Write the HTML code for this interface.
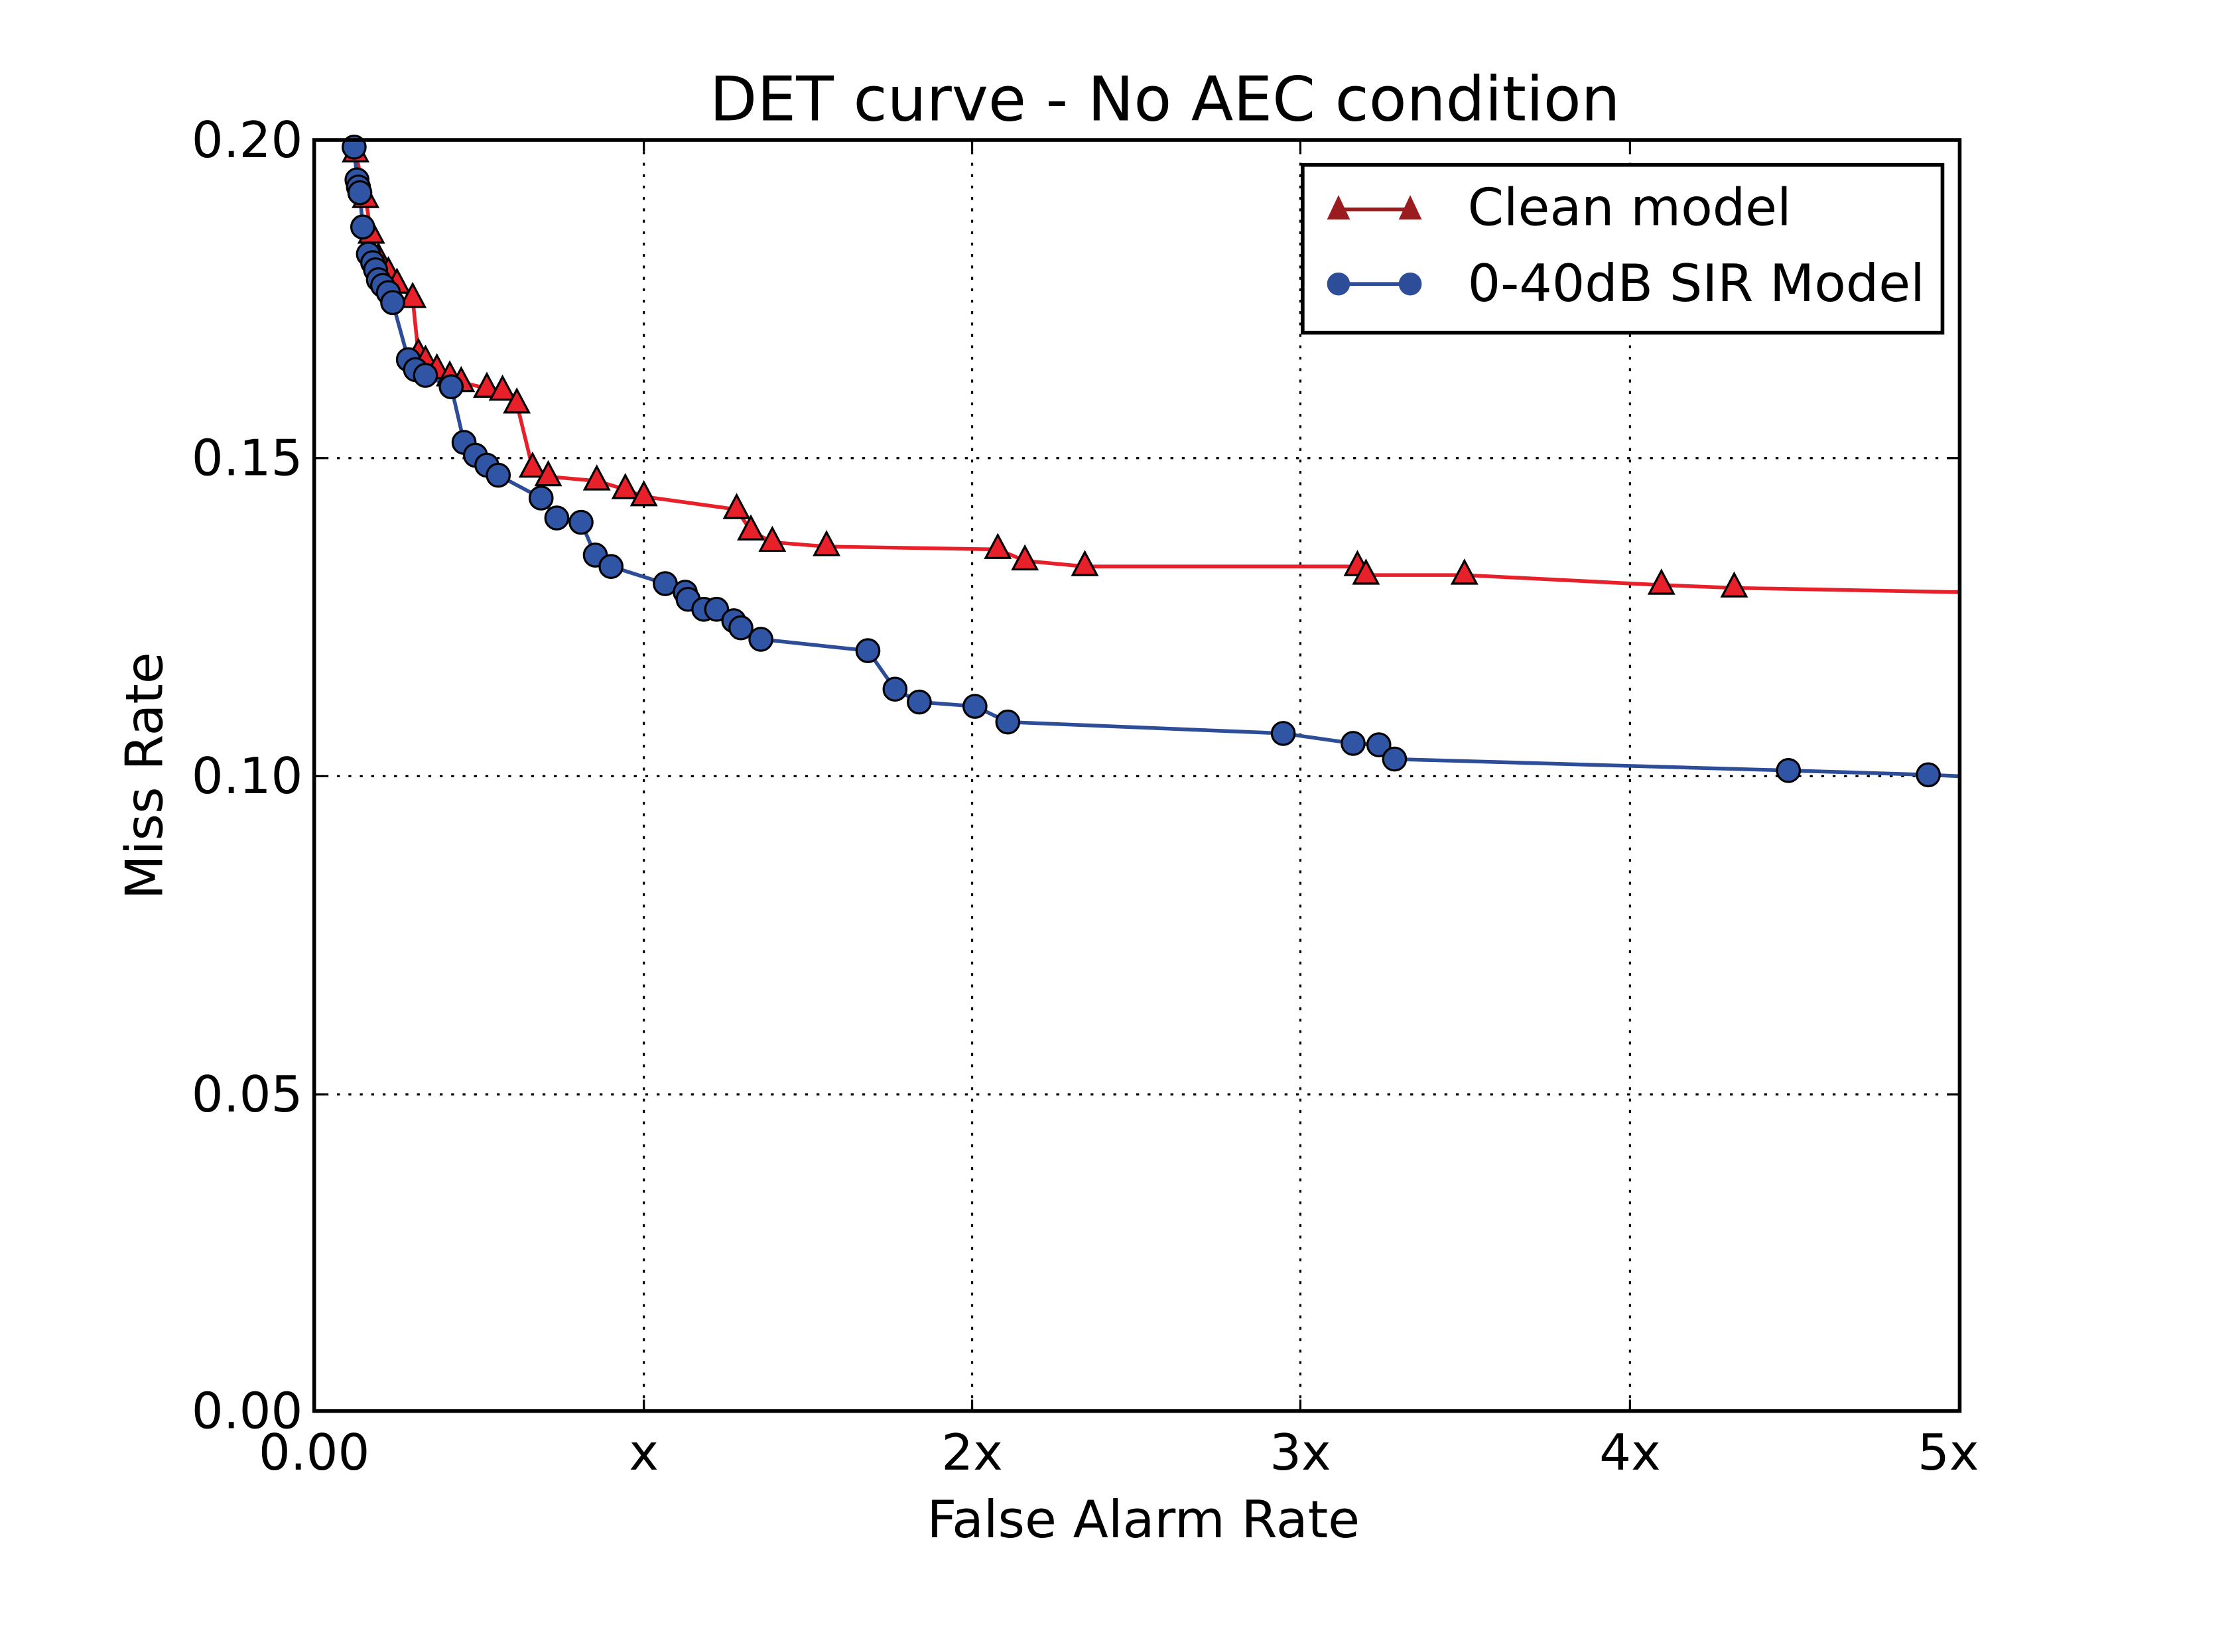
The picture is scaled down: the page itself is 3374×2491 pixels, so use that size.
<!DOCTYPE html>
<html><head><meta charset="utf-8"><style>
html,body{margin:0;padding:0;background:#fff;}
svg{display:block;}
text{font-family:"DejaVu Sans","Liberation Sans",sans-serif;fill:#000;}
</style></head><body>
<svg width="3374" height="2491" viewBox="0 0 1560 1152" preserveAspectRatio="none" xmlns="http://www.w3.org/2000/svg">
<defs>
<path id="tri" d="M0,-10 L8.5,6 L-8.5,6 Z" fill="#e8202a" stroke="#000" stroke-width="1.5"/>
<circle id="cir" r="8" fill="#3055a5" stroke="#000" stroke-width="1.5"/>
</defs>
<rect width="1560" height="1152" fill="#fff"/>
<g transform="translate(219,97.6) scale(0.9948) translate(-220,-97)">
<g stroke="#000" stroke-width="1.5" stroke-dasharray="2,6">
<line x1="451" y1="97" x2="451" y2="988"/>
<line x1="681" y1="97" x2="681" y2="988"/>
<line x1="911" y1="97" x2="911" y2="988"/>
<line x1="1142" y1="97" x2="1142" y2="988"/>
<line x1="220" y1="320" x2="1373" y2="320"/>
<line x1="220" y1="543" x2="1373" y2="543"/>
<line x1="220" y1="766" x2="1373" y2="766"/>
</g>
<g stroke="#000" stroke-width="1.5">
<line x1="451" y1="988" x2="451" y2="980"/><line x1="681" y1="988" x2="681" y2="980"/><line x1="911" y1="988" x2="911" y2="980"/><line x1="1142" y1="988" x2="1142" y2="980"/>
<line x1="451" y1="97" x2="451" y2="105"/><line x1="681" y1="97" x2="681" y2="105"/><line x1="911" y1="97" x2="911" y2="105"/><line x1="1142" y1="97" x2="1142" y2="105"/>
<line x1="220" y1="320" x2="228" y2="320"/><line x1="220" y1="543" x2="228" y2="543"/><line x1="220" y1="766" x2="228" y2="766"/>
<line x1="1373" y1="320" x2="1365" y2="320"/><line x1="1373" y1="543" x2="1365" y2="543"/><line x1="1373" y1="766" x2="1365" y2="766"/>
</g>
<polyline fill="none" stroke="#e8202a" stroke-width="2.6" points="249,106 256,138 260,163 265,180 272,190 278,198 289,208 293,247 298,252 306,258 315,263 323,267 341,271 352,273 362,282 373,327 384,333 418,336 438,342 451,347 516,356 526,371 541,379 579,382 699,384 718,392 760,396 951,396 957,402 1026,402 1164,409 1215,411 1373,414"/>
<polyline fill="none" stroke="#2e4d99" stroke-width="2.6" points="248,102 250,125 251,130 252,134 254,158 258,177 261,183 263,188 265,195 268,199 272,204 275,211 286,251 291,258 298,262 316,270 325,309 333,318 341,325 349,332 379,348 390,362 407,365 417,388 428,396 466,408 480,414 482,419 493,426 502,426 514,434 519,439 533,447 608,455 627,482 644,491 683,494 706,505 899,513 948,520 966,521 977,531 1253,539 1351,542 1373,543"/>
<g>
<use href="#tri" x="249" y="106"/><use href="#tri" x="256" y="138"/><use href="#tri" x="260" y="163"/><use href="#tri" x="265" y="180"/><use href="#tri" x="272" y="190"/><use href="#tri" x="278" y="198"/><use href="#tri" x="289" y="208"/><use href="#tri" x="293" y="247"/><use href="#tri" x="298" y="252"/><use href="#tri" x="306" y="258"/><use href="#tri" x="315" y="263"/><use href="#tri" x="323" y="267"/><use href="#tri" x="341" y="271"/><use href="#tri" x="352" y="273"/><use href="#tri" x="362" y="282"/><use href="#tri" x="373" y="327"/><use href="#tri" x="384" y="333"/><use href="#tri" x="418" y="336"/><use href="#tri" x="438" y="342"/><use href="#tri" x="451" y="347"/><use href="#tri" x="516" y="356"/><use href="#tri" x="526" y="371"/><use href="#tri" x="541" y="379"/><use href="#tri" x="579" y="382"/><use href="#tri" x="699" y="384"/><use href="#tri" x="718" y="392"/><use href="#tri" x="760" y="396"/><use href="#tri" x="951" y="396"/><use href="#tri" x="957" y="402"/><use href="#tri" x="1026" y="402"/><use href="#tri" x="1164" y="409"/><use href="#tri" x="1215" y="411"/>
</g>
<g>
<use href="#cir" x="248" y="102"/><use href="#cir" x="250" y="125"/><use href="#cir" x="251" y="130"/><use href="#cir" x="252" y="134"/><use href="#cir" x="254" y="158"/><use href="#cir" x="258" y="177"/><use href="#cir" x="261" y="183"/><use href="#cir" x="263" y="188"/><use href="#cir" x="265" y="195"/><use href="#cir" x="268" y="199"/><use href="#cir" x="272" y="204"/><use href="#cir" x="275" y="211"/><use href="#cir" x="286" y="251"/><use href="#cir" x="291" y="258"/><use href="#cir" x="298" y="262"/><use href="#cir" x="316" y="270"/><use href="#cir" x="325" y="309"/><use href="#cir" x="333" y="318"/><use href="#cir" x="341" y="325"/><use href="#cir" x="349" y="332"/><use href="#cir" x="379" y="348"/><use href="#cir" x="390" y="362"/><use href="#cir" x="407" y="365"/><use href="#cir" x="417" y="388"/><use href="#cir" x="428" y="396"/><use href="#cir" x="466" y="408"/><use href="#cir" x="480" y="414"/><use href="#cir" x="482" y="419"/><use href="#cir" x="493" y="426"/><use href="#cir" x="502" y="426"/><use href="#cir" x="514" y="434"/><use href="#cir" x="519" y="439"/><use href="#cir" x="533" y="447"/><use href="#cir" x="608" y="455"/><use href="#cir" x="627" y="482"/><use href="#cir" x="644" y="491"/><use href="#cir" x="683" y="494"/><use href="#cir" x="706" y="505"/><use href="#cir" x="899" y="513"/><use href="#cir" x="948" y="520"/><use href="#cir" x="966" y="521"/><use href="#cir" x="977" y="531"/><use href="#cir" x="1253" y="539"/><use href="#cir" x="1351" y="542"/>
</g>
<rect x="220" y="97" width="1153" height="891" fill="none" stroke="#000" stroke-width="2.6"/>
<g font-size="35" text-anchor="middle">
<text x="220" y="1029">0.00</text>
<text x="451" y="1029">x</text>
<text x="681" y="1029">2x</text>
<text x="911" y="1029">3x</text>
<text x="1142" y="1029">4x</text>
<text x="1365" y="1029">5x</text>
</g>
<g font-size="35" text-anchor="end">
<text x="212" y="109">0.20</text>
<text x="212" y="332">0.15</text>
<text x="212" y="555">0.10</text>
<text x="212" y="778">0.05</text>
<text x="212" y="1000">0.00</text>
</g>
</g>
<text x="797" y="1072" font-size="36" text-anchor="middle">False Alarm Rate</text>
<text transform="translate(113,541) rotate(-90)" font-size="36" text-anchor="middle">Miss Rate</text>
<text x="812" y="84" font-size="43" text-anchor="middle">DET curve - No AEC condition</text>
<rect x="908" y="115" width="446" height="117" fill="#fff" stroke="#000" stroke-width="2.6"/>
<line x1="933" y1="146" x2="983" y2="146" stroke="#9b1c1f" stroke-width="2.6"/>
<path d="M933,136 L941,153 L925,153 Z M983,136 L991,153 L975,153 Z" fill="#9b1c1f"/>
<line x1="933" y1="198" x2="983" y2="198" stroke="#2e4d99" stroke-width="2.6"/>
<circle cx="933" cy="198" r="8" fill="#2e4d99"/><circle cx="983" cy="198" r="8" fill="#2e4d99"/>
<text x="1023" y="157" font-size="36">Clean model</text>
<text x="1023" y="210" font-size="36">0-40dB SIR Model</text>
</svg>
</body></html>
